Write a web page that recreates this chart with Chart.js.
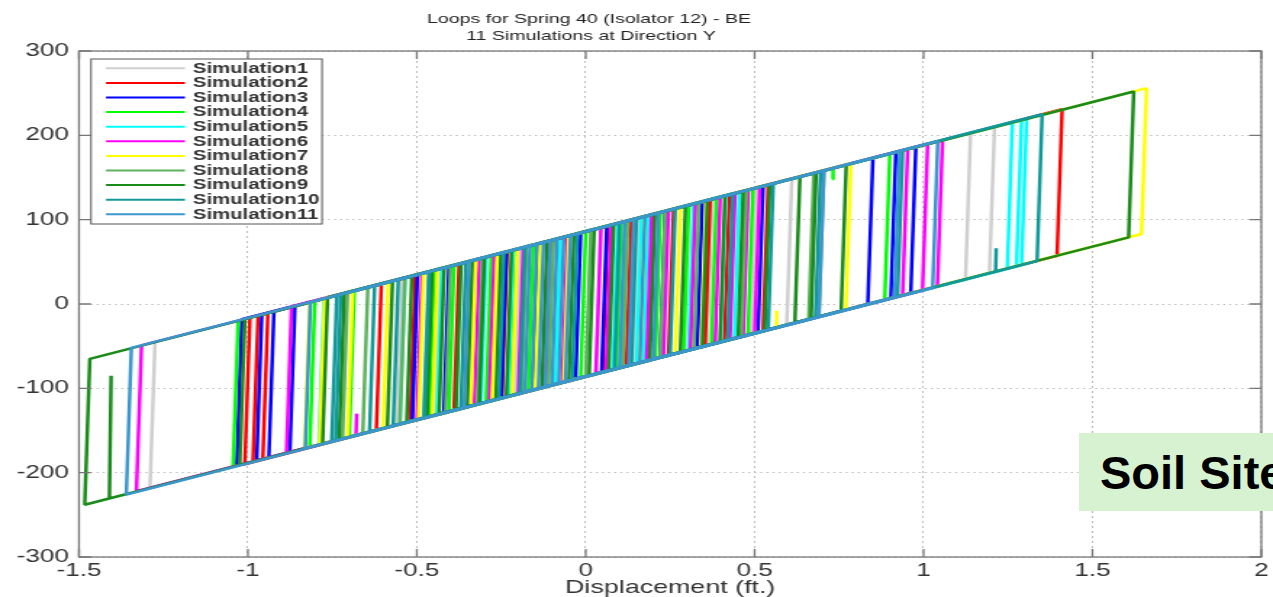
<!DOCTYPE html>
<html>
<head>
<meta charset="utf-8">
<script src="https://cdn.jsdelivr.net/npm/chart.js@4.4.0/dist/chart.umd.min.js"></script>
<style>
  html, body { margin: 0; padding: 0; background: #fff; overflow: hidden; width: 1273px; height: 597px; position: relative; }
  #c { position: absolute; left: 0; top: 0; }
  #soil { position: absolute; left: 1079px; top: 433px; width: 194px; height: 78px; background: #d7f2d0; overflow: hidden; }
  #soil span { position: absolute; left: 21px; top: 16px; font: bold 47px "Liberation Sans", Arial, sans-serif; line-height: 47px; color: #000; white-space: nowrap; }
</style>
</head>
<body>
<canvas id="c" width="878" height="597" style="width:1273px;height:597px"></canvas>
<div id="soil"><span>Soil Site</span></div>
<script>
// axis ticks
const xTicks = [-1.5, -1, -0.5, 0, 0.5, 1, 1.5, 2];
const yTicks = [-300, -200, -100, 0, 100, 200, 300];

const simNames = ['Simulation1', 'Simulation2', 'Simulation3', 'Simulation4', 'Simulation5', 'Simulation6',
  'Simulation7', 'Simulation8', 'Simulation9', 'Simulation10', 'Simulation11'];
const simColors = ['#cfcfcf', '#ff0000', '#0000ff', '#00ff00', '#00ffff', '#ff00ff',
  '#ffff00', '#5fb35f', '#1a8a1a', '#11999a', '#3a96cc'];

// each reversal branch: [disp at lower branch, force, disp at upper branch, force]
const sim1 = [[-1.29,-218,-1.275,-45],[-0.56,-143,-0.545,30],[-0.445,-132,-0.43,42],[-0.21,-108,-0.195,66],
  [0.03,-83,0.045,91],[0.14,-72,0.155,102],[0.324,-53,0.339,121],[0.36,-49,0.375,124],
  [0.49,-36,0.505,138],[0.595,-25,0.61,149],[1.124,29,1.139,203],[1.195,37,1.21,210]];
const sim2 = [[-1.009,-190,-0.994,-16],[-0.985,-187,-0.97,-14],[-0.956,-184,-0.941,-11],[-0.62,-150,-0.605,24],
  [-0.52,-139,-0.505,34],[-0.39,-126,-0.375,47],[-0.248,-111,-0.233,62],[-0.12,-98,-0.105,75],
  [0.05,-81,0.065,93],[0.12,-74,0.135,100],[0.186,-67,0.201,107],[0.245,-61,0.26,113],
  [0.353,-50,0.368,124],[0.41,-44,0.425,130],[0.525,-32,0.54,141],[1.395,57,1.41,231]];
const sim3 = [[-1.033,-192,-1.018,-18],[-0.974,-186,-0.959,-12],[-0.938,-182,-0.923,-9],[-0.876,-176,-0.861,-2],
  [-0.513,-139,-0.498,35],[-0.42,-129,-0.405,44],[-0.25,-112,-0.235,62],[-0.153,-102,-0.138,72],
  [-0.03,-89,-0.015,84],[0.047,-81,0.062,92],[0.22,-63,0.235,110],[0.33,-52,0.345,121],
  [0.51,-34,0.525,140],[0.835,0,0.85,173],[0.903,7,0.918,180],[0.962,13,0.977,186]];
const sim4 = [[-1.044,-193,-1.029,-20],[-0.817,-170,-0.802,4],[-0.70,-158,-0.685,16],[-0.463,-134,-0.448,40],
  [-0.405,-128,-0.39,46],[-0.295,-116,-0.28,57],[-0.227,-109,-0.212,64],[-0.17,-103,-0.155,70],
  [-0.015,-88,0.0,86],[0.09,-77,0.105,97],[0.206,-65,0.221,109],[0.29,-56,0.305,117],
  [0.372,-48,0.387,126],[0.48,-37,0.495,137],[0.885,5,0.9,178]];
const sim5 = [[-0.79,-167,-0.775,6],[-0.55,-142,-0.535,31],[-0.44,-131,-0.425,42],[-0.31,-118,-0.295,56],
  [-0.23,-110,-0.215,64],[-0.09,-95,-0.075,78],[0.08,-78,0.095,96],[0.106,-75,0.121,98],
  [0.15,-71,0.165,103],[0.17,-69,0.185,105],[0.304,-55,0.319,119],[0.40,-45,0.415,129],
  [0.44,-41,0.455,133],[1.248,42,1.263,216],[1.275,45,1.29,218],[1.29,46,1.305,220]];
const sim6 = [[-1.33,-222,-1.315,-49],[-0.886,-177,-0.871,-3],[-0.50,-137,-0.485,36],[-0.33,-120,-0.315,54],
  [-0.286,-115,-0.271,58],[-0.20,-107,-0.185,67],[-0.07,-93,-0.055,80],[0.03,-83,0.045,91],
  [0.06,-80,0.075,94],[0.18,-68,0.195,106],[0.23,-62,0.245,111],[0.31,-54,0.325,119],
  [0.383,-47,0.398,127],[0.427,-42,0.442,131],[0.466,-38,0.481,135],[0.50,-35,0.515,139],
  [0.938,10,0.953,184],[0.997,16,1.012,190],[1.041,21,1.056,194]];
const sim7 = [[-0.832,-171,-0.817,2],[-0.788,-167,-0.773,7],[-0.705,-158,-0.69,15],[-0.60,-148,-0.585,26],
  [-0.495,-137,-0.48,37],[-0.454,-133,-0.439,41],[-0.366,-124,-0.351,50],[-0.34,-121,-0.325,53],
  [-0.277,-114,-0.262,59],[-0.218,-108,-0.203,65],[-0.15,-101,-0.135,72],[-0.065,-93,-0.05,81],
  [0.16,-70,0.175,104],[0.265,-59,0.28,115],[0.342,-51,0.357,123],[0.455,-39,0.47,134],
  [0.77,-7,0.785,167],[1.645,83,1.66,256]];
const sim8 = [[-0.72,-160,-0.705,14],[-0.66,-154,-0.645,20],[-0.55,-142,-0.535,31],[-0.48,-135,-0.465,38],
  [-0.415,-129,-0.4,45],[-0.32,-119,-0.305,55],[-0.19,-105,-0.175,68],[-0.11,-97,-0.095,76],
  [0.0,-86,0.015,88],[0.11,-75,0.125,99],[0.22,-63,0.235,110],[0.32,-53,0.335,120],
  [0.46,-39,0.475,135],[0.66,-18,0.675,155],[0.69,-15,0.705,158]];
const sim9 = [[-1.483,-238,-1.468,-65],[-1.024,-191,-1.009,-18],[-0.779,-166,-0.764,8],[-0.73,-161,-0.715,13],
  [-0.587,-146,-0.572,27],[-0.53,-140,-0.515,33],[-0.47,-134,-0.455,39],[-0.434,-131,-0.419,43],
  [-0.384,-125,-0.369,48],[-0.351,-122,-0.336,51],[-0.315,-118,-0.3,55],[-0.266,-113,-0.251,60],
  [-0.235,-110,-0.22,63],[-0.13,-99,-0.115,74],[-0.05,-91,-0.035,82],[0.01,-85,0.025,89],
  [0.068,-79,0.083,94],[0.19,-67,0.205,107],[0.28,-57,0.295,116],[0.345,-51,0.36,123],
  [0.397,-45,0.412,128],[0.451,-40,0.466,134],[0.53,-32,0.545,142],[0.619,-22,0.634,151],
  [0.667,-18,0.682,156],[0.756,-8,0.771,165],[1.607,79,1.622,252]];
const sim10 = [[-0.752,-163,-0.737,10],[-0.74,-162,-0.725,12],[-0.64,-152,-0.625,22],[-0.57,-144,-0.555,29],
  [-0.478,-135,-0.463,38],[-0.37,-124,-0.355,50],[-0.257,-112,-0.242,61],[-0.195,-106,-0.18,67],
  [-0.04,-90,-0.025,83],[0.085,-77,0.1,96],[0.135,-72,0.15,101],[0.25,-60,0.265,113],
  [0.42,-43,0.435,131],[0.54,-31,0.555,143],[0.68,-16,0.695,157],[0.923,9,0.938,182],
  [1.336,51,1.351,225]];
const sim11 = [[-1.36,-226,-1.345,-52],[-0.83,-171,-0.815,2],[-0.36,-123,-0.345,51],[-0.18,-104,-0.165,69],
  [-0.16,-102,-0.145,71],[-0.14,-100,-0.125,73],[-0.12,-98,-0.105,75],[-0.10,-96,-0.085,77],
  [-0.08,-94,-0.065,79],[-0.06,-92,-0.045,81],[0.10,-76,0.115,98],[0.127,-73,0.142,101],
  [0.16,-70,0.175,104],[0.20,-65,0.215,108],[0.69,-15,0.705,158],[0.914,8,0.929,181],
  [1.027,19,1.042,193]];

// small elastic cycles that do not reach the other branch
const simPartials = [[], [], [], [[0.73,148,0.732,161]], [], [[-0.68,-156,-0.678,-130]],
  [[0.563,-28,0.565,-8]], [], [[-1.41,-231,-1.405,-85]], [[1.213,38,1.215,66]], []];

const simLoops = [sim1, sim2, sim3, sim4, sim5, sim6, sim7, sim8, sim9, sim10, sim11];

// walk the reversals as one path: outermost first, then inwards
function loopPoints(verts, partials) {
  const pts = [];
  const n = verts.length;
  pts.push({x: verts[n - 1][0], y: verts[n - 1][1]});
  let lo = 0, hi = n - 1, up = true;
  while (lo <= hi) {
    const v = up ? verts[lo++] : verts[hi--];
    if (up) pts.push({x: v[0], y: v[1]}, {x: v[2], y: v[3]});
    else pts.push({x: v[2], y: v[3]}, {x: v[0], y: v[1]});
    up = !up;
  }
  partials.forEach(p => pts.push({x: p[0], y: null}, {x: p[0], y: p[1]}, {x: p[2], y: p[3]}));
  return pts;
}

const SX = 878 / 1273; // canvas is stretched horizontally like the source figure
const FONT = '"Liberation Sans", Arial, sans-serif';

const frame = {
  id: 'frame',
  afterDraw(chart) {
    const {ctx, chartArea: a, scales: {x, y}} = chart;
    ctx.save();
    ctx.strokeStyle = '#777';
    ctx.lineWidth = 1.3;
    ctx.strokeRect(a.left, a.top, a.right - a.left, a.bottom - a.top);
    ctx.beginPath();
    x.ticks.forEach(t => {
      const p = x.getPixelForValue(t.value);
      ctx.moveTo(p, a.bottom); ctx.lineTo(p, a.bottom - 8);
      ctx.moveTo(p, a.top); ctx.lineTo(p, a.top + 8);
    });
    y.ticks.forEach(t => {
      const p = y.getPixelForValue(t.value);
      ctx.moveTo(a.left, p); ctx.lineTo(a.left + 12 * SX, p);
      ctx.moveTo(a.right, p); ctx.lineTo(a.right - 12 * SX, p);
    });
    ctx.stroke();

    // legend box
    ctx.fillStyle = '#fff';
    ctx.fillRect(91 * SX, 59, 231 * SX, 165);
    ctx.strokeStyle = '#555';
    ctx.lineWidth = 1;
    ctx.strokeRect(91 * SX, 59, 231 * SX, 165);
    ctx.font = 'bold 14px ' + FONT;
    ctx.textBaseline = 'middle';
    ctx.textAlign = 'left';
    chart.data.datasets.forEach((ds, i) => {
      const yy = 68.3 + i * 14.6;
      ctx.strokeStyle = ds.borderColor;
      ctx.lineWidth = 2;
      ctx.beginPath();
      ctx.moveTo(106 * SX, yy); ctx.lineTo(185 * SX, yy);
      ctx.stroke();
      ctx.fillStyle = '#333';
      ctx.fillText(ds.label, 193 * SX, yy + 0.5);
    });

    // title
    ctx.fillStyle = '#222';
    ctx.font = '13.5px ' + FONT;
    ctx.textAlign = 'center';
    ctx.textBaseline = 'alphabetic';
    ctx.fillText('Loops for Spring 40 (Isolator 12) - BE', 589 * SX, 23);
    ctx.fillText('11 Simulations at Direction Y', 591 * SX, 40);
    ctx.restore();
  }
};

new Chart(document.getElementById('c'), {
  type: 'scatter',
  data: {
    datasets: simNames.map((name, i) => ({
      label: name,
      data: loopPoints(simLoops[i], simPartials[i]),
      showLine: true,
      borderColor: simColors[i],
      backgroundColor: simColors[i],
      borderWidth: 2.5,
      pointRadius: 0,
      order: simNames.length - 1 - i
    }))
  },
  options: {
    responsive: false,
    devicePixelRatio: 1,
    animation: false,
    layout: { padding: { left: 0, right: 7 * SX, top: 51, bottom: 0 } },
    elements: { line: { tension: 0, borderJoinStyle: 'bevel' }, point: { radius: 0 } },
    plugins: { legend: { display: false }, title: { display: false }, tooltip: { enabled: false } },
    scales: {
      x: {
        type: 'linear',
        min: xTicks[0],
        max: xTicks[xTicks.length - 1],
        afterBuildTicks: s => { s.ticks = xTicks.map(v => ({ value: v })); },
        afterFit: s => { s.height = 40; },
        grid: { color: '#bdbdbd', lineWidth: 1, drawTicks: false },
        border: { display: false, dash: [2, 3] },
        ticks: { color: '#333', font: { family: FONT, size: 18 }, padding: 3, maxRotation: 0, autoSkip: false,
          callback: v => String(v) },
        title: { display: true, text: 'Displacement (ft.)', color: '#333', font: { family: FONT, size: 18.5, lineHeight: 1 }, padding: 0 }
      },
      y: {
        type: 'linear',
        min: yTicks[0],
        max: yTicks[yTicks.length - 1],
        afterBuildTicks: s => { s.ticks = yTicks.map(v => ({ value: v })); },
        afterFit: s => { s.width = 79 * SX; },
        grid: { color: '#bdbdbd', lineWidth: 1, drawTicks: false },
        border: { display: false, dash: [1.4, 2.8] },
        ticks: { color: '#333', font: { family: FONT, size: 18 }, padding: 7, callback: v => String(v) }
      }
    }
  },
  plugins: [frame]
});
</script>
</body>
</html>
